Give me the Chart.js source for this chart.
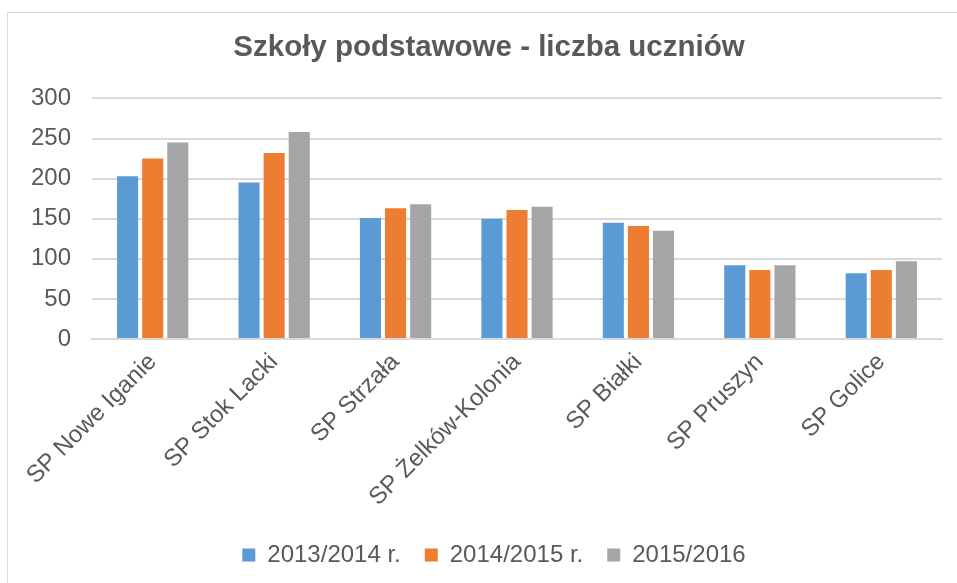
<!DOCTYPE html>
<html>
<head>
<meta charset="utf-8">
<script src="https://cdn.jsdelivr.net/npm/chart.js@4.4.0/dist/chart.umd.min.js"></script>
<style>
  html, body { margin: 0; padding: 0; background: #ffffff; }
  #wrap { position: relative; width: 957px; height: 583px; overflow: hidden; }
  #frame { position: absolute; left: 7px; top: 12px; width: 1000px; height: 700px; border-left: 1px solid #d9d9d9; border-top: 1px solid #d9d9d9; }
  canvas { position: absolute; left: 0; top: 0; }
</style>
</head>
<body>
<div id="wrap">
  <div id="frame"></div>
  <canvas id="c" width="957" height="583"></canvas>
</div>
<script>
const categories = ["SP Nowe Iganie", "SP Stok Lacki", "SP Strzała", "SP Żelków-Kolonia", "SP Białki", "SP Pruszyn", "SP Golice"];
const seriesNames = ["2013/2014 r.", "2014/2015 r.", "2015/2016"];
const values2013 = [203, 195, 151, 150, 145, 92, 82];
const values2014 = [225, 232, 163, 161, 141, 86, 86];
const values2015 = [245, 258, 168, 165, 135, 92, 97];
const seriesColors = ["#5B9BD5", "#ED7D31", "#A5A5A5"];
const yTicks = [0, 50, 100, 150, 200, 250, 300];

const font = "'Liberation Sans', Arial, sans-serif";
const textColor = "#595959";

// shift title and legend centres to match the framed chart's centre
const shiftBoxes = {
  id: "shiftBoxes",
  afterLayout(chart) {
    if (chart.titleBlock) { chart.titleBlock.left += 36; }
    if (chart.legend) { chart.legend.left += 46; }
  }
};

new Chart(document.getElementById("c"), {
  type: "bar",
  data: {
    labels: categories,
    datasets: [values2013, values2014, values2015].map((v, i) => ({
      label: seriesNames[i],
      data: v,
      backgroundColor: seriesColors[i],
      borderWidth: 0,
      categoryPercentage: 0.62,
      barPercentage: 0.84
    }))
  },
  plugins: [shiftBoxes],
  options: {
    responsive: false,
    animation: false,
    layout: { padding: { left: 0, right: 15, top: 12, bottom: 6 } },
    plugins: {
      title: {
        display: true,
        text: "Szkoły podstawowe - liczba uczniów",
        color: textColor,
        font: { family: font, size: 29.5, weight: "bold" },
        padding: { top: 18, bottom: 33 }
      },
      legend: {
        position: "bottom",
        labels: {
          color: textColor,
          font: { family: font, size: 24 },
          boxWidth: 13,
          boxHeight: 13,
          padding: 24
        }
      },
      tooltip: { enabled: false }
    },
    scales: {
      x: {
        grid: { display: false, drawTicks: false },
        border: { display: true, color: "#d9d9d9", width: 2 },
        ticks: {
          color: textColor,
          font: { family: font, size: 24 },
          maxRotation: 45,
          minRotation: 45,
          padding: 9
        },
        afterFit: (s) => { s.height = 180; }
      },
      y: {
        min: 0,
        max: 300,
        afterBuildTicks: (s) => { s.ticks = yTicks.map(v => ({ value: v })); },
        grid: { color: "#d9d9d9", lineWidth: 2, drawTicks: false },
        border: { display: false },
        ticks: {
          color: textColor,
          font: { family: font, size: 24 },
          padding: 21
        },
        afterFit: (s) => { s.width = 92; }
      }
    }
  }
});
</script>
</body>
</html>
